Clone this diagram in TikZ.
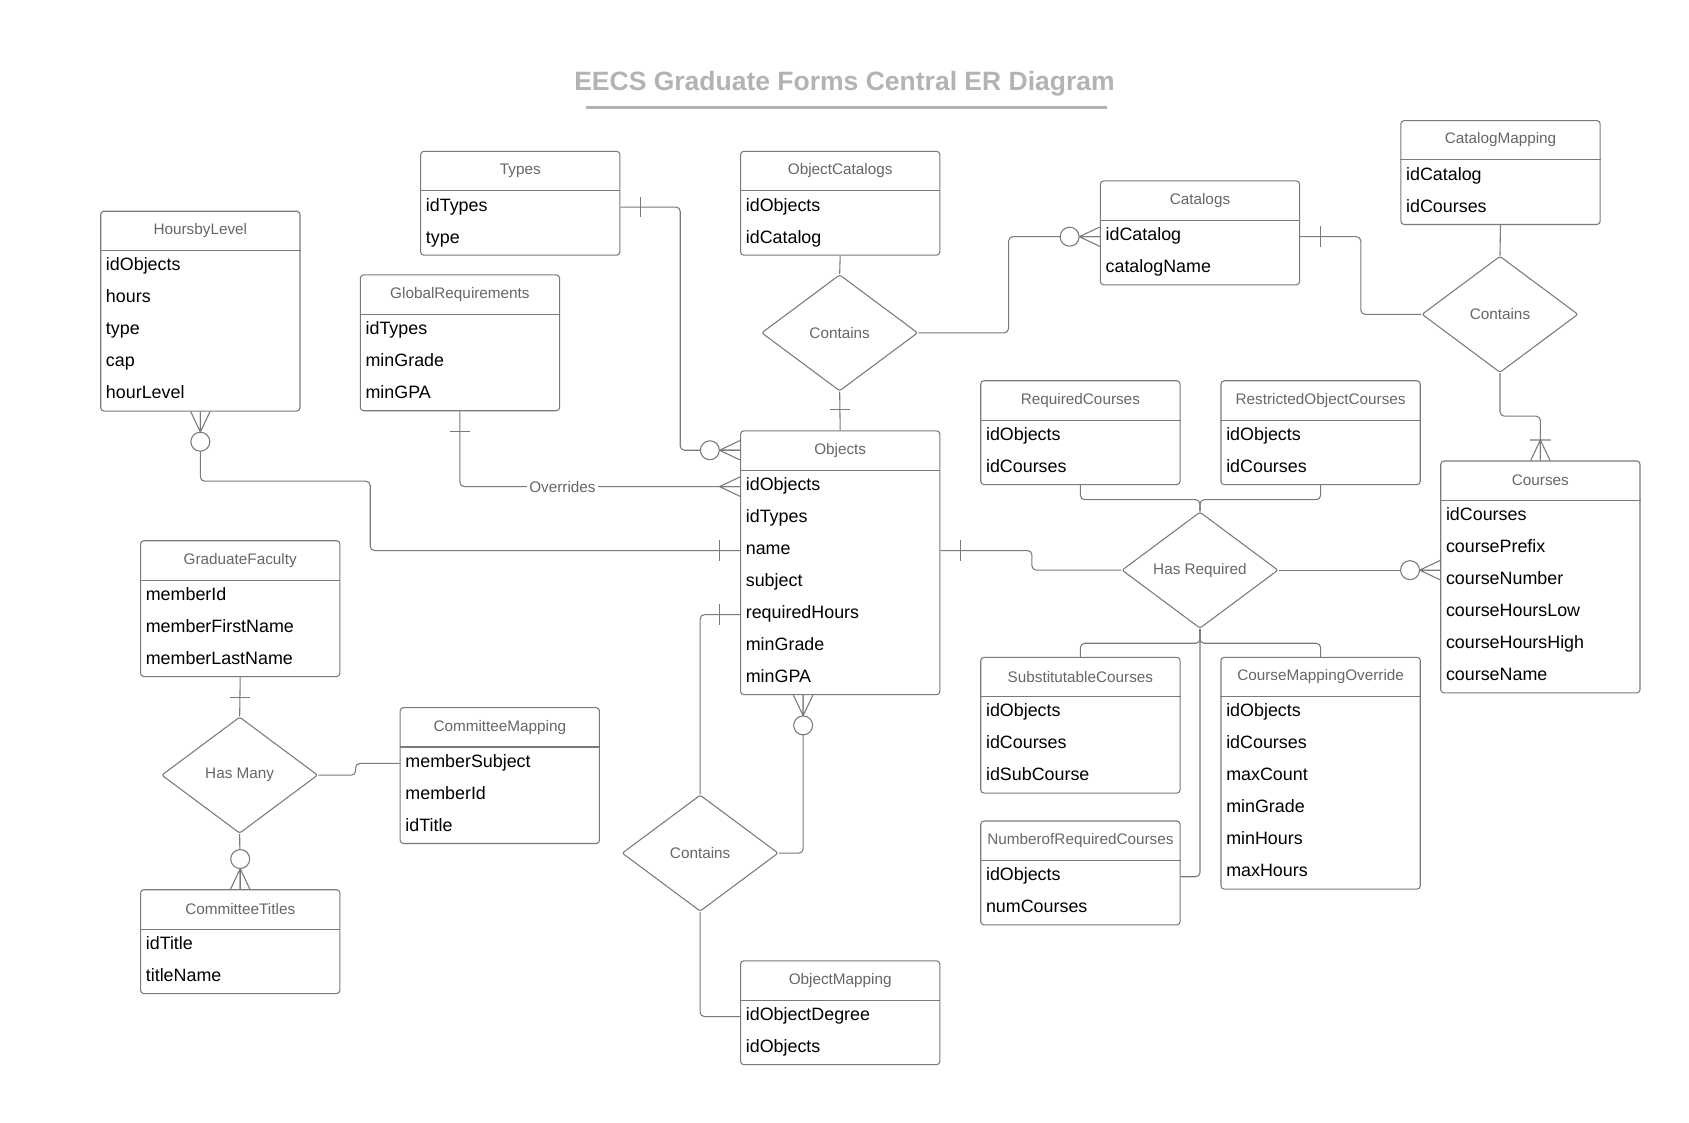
\documentclass[tikz,border=0pt]{standalone}
\usepackage{fontspec}
\setmainfont{Liberation Sans}
\usetikzlibrary{shapes.geometric,calc}

\definecolor{linegray}{HTML}{7A7A7A}
\definecolor{textgray}{HTML}{666666}
\definecolor{titlegray}{HTML}{B3B3B3}

\tikzset{
    conn/.style={draw=linegray, line width=0.5pt, rounded corners=2pt},
    endline/.style={draw=linegray, line width=0.5pt},
    entity/.style={draw=linegray, line width=0.5pt, rounded corners=1.5pt, anchor=north west, minimum width=92.5pt, inner sep=0pt},
    etitle/.style={text=textgray, font=\fontsize{7.1}{9}\selectfont, inner sep=0pt},
    field/.style={anchor=north west, inner xsep=2.5pt, inner ysep=0pt, text height=9.25pt, text depth=5.6pt, font=\fontsize{8.3}{10}\selectfont},
    relation/.style={diamond, draw=linegray, line width=0.5pt, rounded corners=1pt, minimum width=72.5pt, minimum height=54pt, inner sep=0pt, aspect=1.34, text=textgray, font=\fontsize{7.1}{9}\selectfont},
    lbl/.style={fill=white, inner sep=1pt, text=textgray, font=\fontsize{7.1}{9}\selectfont},
    pics/one/.style={code={\draw[endline] (19,-9.5) -- (19,9.5);}},
    pics/many/.style={code={\draw[endline] (0,9) -- (19,0) -- (0,-9) (0,0) -- (19,0);}},
    pics/zmany/.style={code={\draw[endline] (0,9) -- (19,0) -- (0,-9) (0,0) -- (19,0);
        \draw[endline, fill=white] (28,0) circle (4.4pt);}},
    pics/omany/.style={code={\draw[endline] (0,9) -- (19,0) -- (0,-9) (0,0) -- (19,0) (19,-9.5) -- (19,9.5);}},
}

% name, left, top, number of fields, title, fields
\newcommand{\entitybox}[6]{%
    \node[entity, minimum height={(37+#4*29.7)*0.5pt}] (#1) at (#2,#3) {};
    \draw[endline] ($(#1.north west)+(0,37)$) -- ($(#1.north east)+(0,37)$);
    \node[etitle] (#1-h) at ($(#1.north)+(0,18.5)$) {#5};
    \foreach \f [count=\i] in {#6} {
        \pgfmathsetmacro{\rowtop}{37+(\i-1)*29.7}
        \node[field] (#1-\i) at ($(#1.north west)+(0,\rowtop)$) {\f};
    }
}

\begin{document}
\begin{tikzpicture}[x=0.5pt, y=-0.5pt]
    \useasboundingbox (0,0) rectangle (1568,1042);

    \node[font=\bfseries\fontsize{12.3}{15}\selectfont, text=titlegray] (title) at (784,78) {EECS Graduate Forms Central ER Diagram};
    \draw[titlegray, line width=1.2pt] (544,100) -- (1028,100);

    % tables
    \entitybox{hoursbylevel}{93}{195.6}{5}{HoursbyLevel}{idObjects,hours,type,cap,hourLevel}
    \entitybox{globalreq}{334}{254.7}{3}{GlobalRequirements}{idTypes,minGrade,minGPA}
    \entitybox{types}{390}{140}{2}{Types}{idTypes,type}
    \entitybox{objcatalogs}{687}{140}{2}{ObjectCatalogs}{idObjects,idCatalog}
    \entitybox{catalogs}{1021}{167.5}{2}{Catalogs}{idCatalog,catalogName}
    \entitybox{catalogmap}{1300}{111.5}{2}{CatalogMapping}{idCatalog,idCourses}
    \entitybox{objects}{687}{399.5}{7}{Objects}{idObjects,idTypes,name,subject,requiredHours,minGrade,minGPA}
    \entitybox{reqcourses}{910}{353}{2}{RequiredCourses}{idObjects,idCourses}
    \entitybox{restrcourses}{1133}{353}{2}{RestrictedObjectCourses}{idObjects,idCourses}
    \entitybox{courses}{1337}{427.5}{6}{Courses}{idCourses,coursePrefix,courseNumber,courseHoursLow,courseHoursHigh,courseName}
    \entitybox{gradfaculty}{130}{501.5}{3}{GraduateFaculty}{memberId,memberFirstName,memberLastName}
    \entitybox{commitmap}{371}{656.5}{3}{CommitteeMapping}{memberSubject,memberId,idTitle}
    \entitybox{committitles}{130}{825.5}{2}{CommitteeTitles}{idTitle,titleName}
    \entitybox{subcourses}{910}{609.7}{3}{SubstitutableCourses}{idObjects,idCourses,idSubCourse}
    \entitybox{cmoverride}{1133}{609.7}{6}{CourseMappingOverride}{idObjects,idCourses,maxCount,minGrade,minHours,maxHours}
    \entitybox{numreq}{910}{761.7}{2}{NumberofRequiredCourses}{idObjects,numCourses}
    \entitybox{objmapping}{687}{891.5}{2}{ObjectMapping}{idObjectDegree,idObjects}

    % relations
    \node[relation] (contains1) at (779.5,309) {Contains};
    \node[relation] (contains2) at (1392.5,291.8) {Contains};
    \node[relation] (hasreq) at (1114,529.3) {Has Required};
    \node[relation] (hasmany) at (222.5,719.6) {Has Many};
    \node[relation] (contains3) at (650,792) {Contains};

    % connectors
    \draw[conn] (types.east |- types-1) -- ++(55.5,0) |- (objects.west |- objects-h);
    \draw[conn] (objcatalogs.south) -- (contains1.north);
    \draw[conn] (contains1.south) -- (objects.north);
    \draw[conn] (contains1.east) -- ++(83.8,0) |- (catalogs.west |- catalogs-1);
    \draw[conn] (catalogs.east |- catalogs-1) -- ++(56.3,0) |- (contains2.west);
    \draw[conn] (catalogmap.south) -- (contains2.north);
    \draw[conn] (contains2.south) -- ++(0,40) -| (courses.north);
    \draw[conn] (hoursbylevel.south) -- ++(0,64.6) -- ++(157.7,0) |- (objects.west |- objects-3);
    \draw[conn] (globalreq.south) |- node[lbl, pos=0.683] (overrides) {Overrides} (objects.west |- objects-1);
    \draw[conn] (objects.east |- objects-3) -- ++(85,0) |- (hasreq.west);
    \draw[conn] (hasreq.east) -- (hasreq.east -| courses.west);
    \draw[conn] (reqcourses.south) -- ++(0,13.5) -| (hasreq.north);
    \draw[conn] (restrcourses.south) -- ++(0,13.5) -| (hasreq.north);
    \draw[conn] (hasreq.south) -- ++(0,13.4) -| (subcourses.north);
    \draw[conn] (hasreq.south) -- ++(0,13.4) -| (cmoverride.north);
    \draw[conn] (hasreq.south) |- (numreq.east |- numreq-1);
    \draw[conn] (objects.west |- objects-5) -| (contains3.north);
    \draw[conn] ($(objects.south west)+(58.6,0)$) |- (contains3.east);
    \draw[conn] (contains3.south) |- (objmapping.west |- objmapping-1);
    \draw[conn] (gradfaculty.south) -- (hasmany.north);
    \draw[conn] (hasmany.east) -- ++(34.7,0) |- (commitmap.west |- commitmap-1);
    \draw[conn] (hasmany.south) -- (committitles.north);

    % ends
    \pic at (types.east |- types-1) {one};
    \pic[rotate=180] at (objects.west |- objects-h) {zmany};
    \pic[rotate=90] at (objects.north) {one};
    \pic[rotate=180] at (catalogs.west |- catalogs-1) {zmany};
    \pic at (catalogs.east |- catalogs-1) {one};
    \pic[rotate=90] at (courses.north) {omany};
    \pic[rotate=-90] at (hoursbylevel.south) {zmany};
    \pic[rotate=180] at (objects.west |- objects-3) {one};
    \pic[rotate=-90] at (globalreq.south) {one};
    \pic[rotate=180] at (objects.west |- objects-1) {many};
    \pic at (objects.east |- objects-3) {one};
    \pic[rotate=180] at (hasreq.east -| courses.west) {zmany};
    \pic[rotate=180] at (objects.west |- objects-5) {one};
    \pic[rotate=-90] at ($(objects.south west)+(58.6,0)$) {zmany};
    \pic[rotate=-90] at (gradfaculty.south) {one};
    \pic[rotate=90] at (committitles.north) {zmany};
\end{tikzpicture}
\end{document}
